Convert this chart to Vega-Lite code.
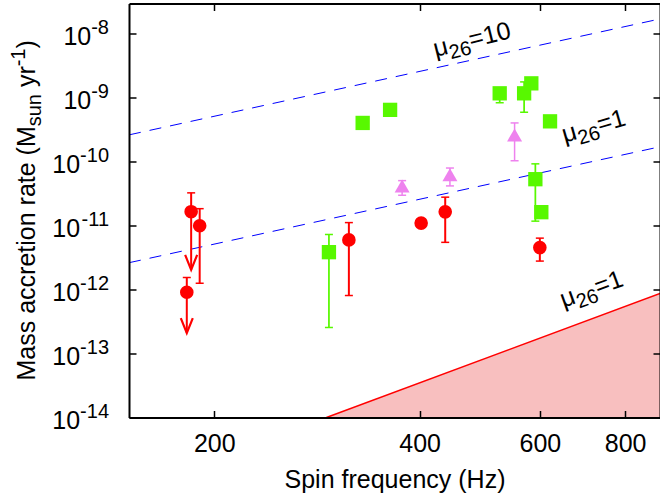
{
  "$schema": "https://vega.github.io/schema/vega-lite/v6.json",
  "width": 531,
  "height": 414,
  "autosize": {"type": "none"},
  "padding": {"left": 129, "top": 3.5, "right": 0, "bottom": 79.5},
  "background": "white",
  "config": {"view": {"stroke": null}, "font": "Liberation Sans", "text": {"font": "Liberation Sans", "color": "black"}},
  "datasets": {
    "redline": [{"f": 292, "v": 1e-14}, {"f": 900, "v": 8.7e-13}],
    "blue": [
      {"mu": "10", "f": 150, "v": 2.64e-10}, {"mu": "10", "f": 900, "v": 1.72e-8},
      {"mu": "1", "f": 150, "v": 2.64e-12}, {"mu": "1", "f": 900, "v": 1.72e-10}
    ],
    "err": [
      {"g": "r", "f": 185, "lo": 2.04e-12, "hi": 3.27e-11, "k": "ul"},
      {"g": "r", "f": 190.4, "lo": 1.26e-12, "hi": 1.85e-11, "k": "bar"},
      {"g": "r", "f": 182.3, "lo": 2.09e-13, "hi": 1.55e-12, "k": "ul"},
      {"g": "r", "f": 315, "lo": 8.1e-13, "hi": 1.12e-11, "k": "bar"},
      {"g": "r", "f": 436, "lo": 5.5e-12, "hi": 2.8e-11, "k": "bar"},
      {"g": "r", "f": 600, "lo": 2.8e-12, "hi": 6.4e-12, "k": "bar"},
      {"g": "g", "f": 294.5, "lo": 2.56e-13, "hi": 7.3e-12, "k": "bar"},
      {"g": "g", "f": 524, "lo": 8.4e-10, "hi": 1.18e-9, "k": "bar"},
      {"g": "g", "f": 569, "lo": 5.97e-10, "hi": 1.78e-9, "k": "bar"},
      {"g": "g", "f": 591, "lo": 1.18e-11, "hi": 9.3e-11, "k": "bar"},
      {"g": "v", "f": 377, "lo": 3.0e-11, "hi": 5.08e-11, "k": "bar"},
      {"g": "v", "f": 443, "lo": 4.2e-11, "hi": 8.0e-11, "k": "bar"},
      {"g": "v", "f": 551, "lo": 1.04e-10, "hi": 4.06e-10, "k": "bar"}
    ],
    "pts": [
      {"g": "r", "f": 185, "v": 1.66e-11},
      {"g": "r", "f": 190.4, "v": 1.0e-11},
      {"g": "r", "f": 182.3, "v": 9.1e-13},
      {"g": "r", "f": 315, "v": 6.0e-12},
      {"g": "r", "f": 402, "v": 1.1e-11},
      {"g": "r", "f": 436, "v": 1.65e-11},
      {"g": "r", "f": 600, "v": 4.55e-12},
      {"g": "g", "f": 294.5, "v": 3.86e-12},
      {"g": "g", "f": 330, "v": 4.06e-10},
      {"g": "g", "f": 362, "v": 6.5e-10},
      {"g": "g", "f": 524, "v": 1.18e-9},
      {"g": "g", "f": 569, "v": 1.18e-9},
      {"g": "g", "f": 583, "v": 1.69e-9},
      {"g": "g", "f": 621, "v": 4.3e-10},
      {"g": "g", "f": 591, "v": 5.35e-11},
      {"g": "g", "f": 603, "v": 1.63e-11},
      {"g": "v", "f": 377, "v": 4.2e-11},
      {"g": "v", "f": 443, "v": 6.3e-11},
      {"g": "v", "f": 551, "v": 2.64e-10}
    ],
    "ylab": [
      {"v": 1e-8, "e": "-8"}, {"v": 1e-9, "e": "-9"}, {"v": 1e-10, "e": "-10"},
      {"v": 1e-11, "e": "-11"}, {"v": 1e-12, "e": "-12"}, {"v": 1e-13, "e": "-13"}, {"v": 1e-14, "e": "-14"}
    ]
  },
  "resolve": {"axis": {"x": "independent", "y": "independent"}},
  "layer": [
    {
      "data": {"name": "redline"},
      "mark": {"type": "area", "color": "#f8bfbf"},
      "encoding": {
        "x": {"field": "f", "type": "quantitative", "scale": {"type": "log", "domain": [150, 900], "nice": false},
          "axis": {"orient": "bottom", "values": [200, 400, 600, 800], "format": "d", "tickSize": -7, "tickWidth": 1.5, "tickColor": "black",
            "domainColor": "black", "domainWidth": 2, "labelFontSize": 25, "labelFont": "Liberation Sans", "labelColor": "black",
            "labelPadding": 20.5, "labelFlush": false, "labelOverlap": false, "grid": false,
            "title": "Spin frequency (Hz)", "titleFontSize": 25, "titleFont": "Liberation Sans", "titleFontWeight": "normal", "titleColor": "black",
            "titleBaseline": "alphabetic", "titleX": 265.5, "titleY": 69.8, "zindex": 1}},
        "y": {"field": "v", "type": "quantitative", "scale": {"type": "log", "domain": [1e-14, 3e-8], "nice": false},
          "axis": {"orient": "left", "values": [1e-14, 1e-13, 1e-12, 1e-11, 1e-10, 1e-9, 1e-8], "labels": false, "tickSize": -7, "tickWidth": 1.5,
            "tickColor": "black", "domainColor": "black", "domainWidth": 2, "grid": false, "title": null, "zindex": 1}},
        "y2": {"datum": 1e-14}
      }
    },
    {
      "data": {"name": "redline"},
      "mark": {"type": "line", "color": "#ff0000", "strokeWidth": 1.5},
      "encoding": {
        "x": {"field": "f", "type": "quantitative", "scale": {"type": "log", "domain": [150, 900], "nice": false},
          "axis": {"orient": "top", "values": [200, 400, 600, 800], "labels": false, "tickSize": -7, "tickWidth": 1.5, "tickColor": "black",
            "domainColor": "black", "domainWidth": 2, "grid": false, "title": null, "zindex": 1}},
        "y": {"field": "v", "type": "quantitative", "scale": {"type": "log", "domain": [1e-14, 3e-8], "nice": false},
          "axis": {"orient": "right", "values": [1e-14, 1e-13, 1e-12, 1e-11, 1e-10, 1e-9, 1e-8], "labels": false, "tickSize": -7, "tickWidth": 1.5,
            "tickColor": "black", "domainColor": "black", "domainWidth": 2, "grid": false, "title": null, "zindex": 1}}
      }
    },
    {
      "data": {"name": "blue"},
      "mark": {"type": "line", "color": "#0000ff", "strokeWidth": 1, "strokeDash": [12, 9]},
      "encoding": {
        "x": {"field": "f", "type": "quantitative", "scale": {"type": "log", "domain": [150, 900], "nice": false}, "axis": null},
        "y": {"field": "v", "type": "quantitative", "scale": {"type": "log", "domain": [1e-14, 3e-8], "nice": false}, "axis": null},
        "detail": {"field": "mu"}
      }
    },
    {
      "data": {"name": "err"},
      "mark": {"type": "rule"},
      "encoding": {
        "x": {"field": "f", "type": "quantitative", "scale": {"type": "log", "domain": [150, 900], "nice": false}, "axis": null},
        "y": {"field": "lo", "type": "quantitative", "scale": {"type": "log", "domain": [1e-14, 3e-8], "nice": false}, "axis": null},
        "y2": {"field": "hi"},
        "color": {"field": "g", "type": "nominal", "scale": {"domain": ["r", "g", "v"], "range": ["#ff0000", "#58f800", "#ee82ee"]}, "legend": null},
        "strokeWidth": {"field": "g", "type": "nominal", "scale": {"domain": ["r", "g", "v"], "range": [2, 1.5, 1.5]}, "legend": null}
      }
    },
    {
      "data": {"name": "err"},
      "mark": {"type": "tick", "orient": "horizontal", "size": 8, "thickness": 1.5, "opacity": 1},
      "encoding": {
        "x": {"field": "f", "type": "quantitative", "scale": {"type": "log", "domain": [150, 900], "nice": false}, "axis": null},
        "y": {"field": "hi", "type": "quantitative", "scale": {"type": "log", "domain": [1e-14, 3e-8], "nice": false}, "axis": null},
        "color": {"field": "g", "type": "nominal", "scale": {"domain": ["r", "g", "v"], "range": ["#ff0000", "#58f800", "#ee82ee"]}, "legend": null}
      }
    },
    {
      "data": {"name": "err"},
      "transform": [{"filter": "datum.k == 'bar'"}],
      "mark": {"type": "tick", "orient": "horizontal", "size": 8, "thickness": 1.5, "opacity": 1},
      "encoding": {
        "x": {"field": "f", "type": "quantitative", "scale": {"type": "log", "domain": [150, 900], "nice": false}, "axis": null},
        "y": {"field": "lo", "type": "quantitative", "scale": {"type": "log", "domain": [1e-14, 3e-8], "nice": false}, "axis": null},
        "color": {"field": "g", "type": "nominal", "scale": {"domain": ["r", "g", "v"], "range": ["#ff0000", "#58f800", "#ee82ee"]}, "legend": null}
      }
    },
    {
      "data": {"name": "err"},
      "transform": [{"filter": "datum.k == 'ul'"}],
      "mark": {"type": "point", "shape": "M-0.4,-1L0,0L0.4,-1", "size": 900, "filled": false, "strokeWidth": 2.2, "color": "#ff0000", "opacity": 1},
      "encoding": {
        "x": {"field": "f", "type": "quantitative", "scale": {"type": "log", "domain": [150, 900], "nice": false}, "axis": null},
        "y": {"field": "lo", "type": "quantitative", "scale": {"type": "log", "domain": [1e-14, 3e-8], "nice": false}, "axis": null}
      }
    },
    {
      "data": {"name": "pts"},
      "mark": {"type": "point", "filled": true, "opacity": 1, "strokeWidth": 0},
      "encoding": {
        "x": {"field": "f", "type": "quantitative", "scale": {"type": "log", "domain": [150, 900], "nice": false}, "axis": null},
        "y": {"field": "v", "type": "quantitative", "scale": {"type": "log", "domain": [1e-14, 3e-8], "nice": false}, "axis": null},
        "color": {"field": "g", "type": "nominal", "scale": {"domain": ["r", "g", "v"], "range": ["#ff0000", "#58f800", "#ee82ee"]}, "legend": null},
        "shape": {"field": "g", "type": "nominal", "scale": {"domain": ["r", "g", "v"], "range": ["circle", "square", "triangle-up"]}, "legend": null},
        "size": {"field": "g", "type": "nominal", "scale": {"domain": ["r", "g", "v"], "range": [185, 225, 190]}, "legend": null}
      }
    },
    {
      "data": {"name": "ylab"},
      "mark": {"type": "text", "align": "right", "baseline": "alphabetic", "fontSize": 20, "dx": -20, "dy": 0},
      "encoding": {
        "x": {"datum": 150, "type": "quantitative", "scale": {"type": "log", "domain": [150, 900], "nice": false}, "axis": null},
        "y": {"field": "v", "type": "quantitative", "scale": {"type": "log", "domain": [1e-14, 3e-8], "nice": false}, "axis": null},
        "text": {"field": "e"}
      }
    },
    {
      "data": {"name": "ylab"},
      "transform": [{"filter": "length(datum.e) == 2"}],
      "mark": {"type": "text", "text": "10", "align": "right", "baseline": "alphabetic", "fontSize": 25, "dx": -37.8, "dy": 11},
      "encoding": {
        "x": {"datum": 150, "type": "quantitative", "scale": {"type": "log", "domain": [150, 900], "nice": false}, "axis": null},
        "y": {"field": "v", "type": "quantitative", "scale": {"type": "log", "domain": [1e-14, 3e-8], "nice": false}, "axis": null}
      }
    },
    {
      "data": {"name": "ylab"},
      "transform": [{"filter": "length(datum.e) == 3"}],
      "mark": {"type": "text", "text": "10", "align": "right", "baseline": "alphabetic", "fontSize": 25, "dx": -48.9, "dy": 11},
      "encoding": {
        "x": {"datum": 150, "type": "quantitative", "scale": {"type": "log", "domain": [150, 900], "nice": false}, "axis": null},
        "y": {"field": "v", "type": "quantitative", "scale": {"type": "log", "domain": [1e-14, 3e-8], "nice": false}, "axis": null}
      }
    },
    {
      "data": {"values": [{}]},
      "layer": [
        {"mark": {"type": "text", "text": "Mass accretion rate (M", "angle": 270, "align": "left", "baseline": "alphabetic", "fontSize": 25, "dx": 37, "dy": -94.3}},
        {"mark": {"type": "text", "text": "sun", "angle": 270, "align": "left", "baseline": "alphabetic", "fontSize": 20, "dx": 291.2, "dy": -88}},
        {"mark": {"type": "text", "text": "yr", "angle": 270, "align": "left", "baseline": "alphabetic", "fontSize": 25, "dx": 330.4, "dy": -94.3}},
        {"mark": {"type": "text", "text": "-1", "angle": 270, "align": "left", "baseline": "alphabetic", "fontSize": 20, "dx": 351.2, "dy": -104}},
        {"mark": {"type": "text", "text": ")", "angle": 270, "align": "left", "baseline": "alphabetic", "fontSize": 25, "dx": 369, "dy": -94.3}}
      ],
      "encoding": {
        "x": {"datum": 150, "type": "quantitative", "scale": {"type": "log", "domain": [150, 900], "nice": false}, "axis": null},
        "y": {"datum": 1e-14, "type": "quantitative", "scale": {"type": "log", "domain": [1e-14, 3e-8], "nice": false}, "axis": null}
      }
    },
    {
      "data": {"values": [{}]},
      "layer": [
        {"mark": {"type": "text", "text": "μ", "angle": 346, "align": "left", "baseline": "alphabetic", "fontSize": 25, "dx": 0, "dy": 0}},
        {"mark": {"type": "text", "text": "26", "angle": 346, "align": "left", "baseline": "alphabetic", "fontSize": 20, "dx": 14.4, "dy": 6}},
        {"mark": {"type": "text", "text": "=10", "angle": 346, "align": "left", "baseline": "alphabetic", "fontSize": 25, "dx": 36.6, "dy": 0}}
      ],
      "encoding": {
        "x": {"datum": 422, "type": "quantitative", "scale": {"type": "log", "domain": [150, 900], "nice": false}, "axis": null},
        "y": {"datum": 4.37e-9, "type": "quantitative", "scale": {"type": "log", "domain": [1e-14, 3e-8], "nice": false}, "axis": null}
      }
    },
    {
      "data": {"values": [{}]},
      "layer": [
        {"mark": {"type": "text", "text": "μ", "angle": 344, "align": "left", "baseline": "alphabetic", "fontSize": 25, "dx": 0, "dy": 0}},
        {"mark": {"type": "text", "text": "26", "angle": 344, "align": "left", "baseline": "alphabetic", "fontSize": 20, "dx": 14.4, "dy": 6}},
        {"mark": {"type": "text", "text": "=1", "angle": 344, "align": "left", "baseline": "alphabetic", "fontSize": 25, "dx": 36.6, "dy": 0}}
      ],
      "encoding": {
        "x": {"datum": 652, "type": "quantitative", "scale": {"type": "log", "domain": [150, 900], "nice": false}, "axis": null},
        "y": {"datum": 1.98e-10, "type": "quantitative", "scale": {"type": "log", "domain": [1e-14, 3e-8], "nice": false}, "axis": null}
      }
    },
    {
      "data": {"values": [{}]},
      "layer": [
        {"mark": {"type": "text", "text": "μ", "angle": 340, "align": "left", "baseline": "alphabetic", "fontSize": 25, "dx": 0, "dy": 0}},
        {"mark": {"type": "text", "text": "26", "angle": 340, "align": "left", "baseline": "alphabetic", "fontSize": 20, "dx": 14.4, "dy": 6}},
        {"mark": {"type": "text", "text": "=1", "angle": 340, "align": "left", "baseline": "alphabetic", "fontSize": 25, "dx": 36.6, "dy": 0}}
      ],
      "encoding": {
        "x": {"datum": 650, "type": "quantitative", "scale": {"type": "log", "domain": [150, 900], "nice": false}, "axis": null},
        "y": {"datum": 5.19e-13, "type": "quantitative", "scale": {"type": "log", "domain": [1e-14, 3e-8], "nice": false}, "axis": null}
      }
    }
  ]
}
